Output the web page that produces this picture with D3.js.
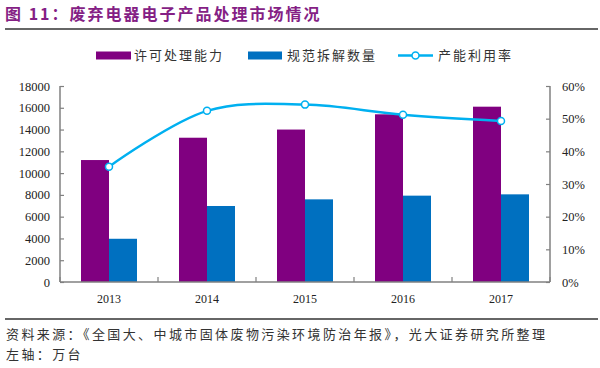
<!DOCTYPE html>
<html><head><meta charset="utf-8">
<script src="https://cdn.jsdelivr.net/npm/d3@7"></script>
<style>body{margin:0;background:#fff}svg{display:block}</style>
</head><body>
<script>
const categories = ["2013","2014","2015","2016","2017"];
const capacity = [11200, 13250, 14000, 15400, 16100];   // 许可处理能力
const dismantled = [3970, 6980, 7590, 7930, 8050];     // 规范拆解数量
const utilization = [0.353, 0.524, 0.543, 0.512, 0.493]; // 产能利用率
const leftTicks = [0,2000,4000,6000,8000,10000,12000,14000,16000,18000];
const rightTicks = [0,0.1,0.2,0.3,0.4,0.5,0.6];
const seriesNames = ["许可处理能力","规范拆解数量","产能利用率"];

const W=600,H=368;
const cjk='"Noto Sans CJK SC", sans-serif';
const serif='"Liberation Serif", "Times New Roman", serif';
const cPurple="#800080", cBlue="#0070C0", cLine="#00B0F0", axisC="#808080";

const svg=d3.select("body").append("svg").attr("width",W).attr("height",H);

// title
svg.append("text").attr("x",5).attr("y",20).attr("font-family",cjk).attr("font-weight","bold")
  .attr("font-size",16).attr("letter-spacing",2).attr("fill","#851F85").text("图 11：废弃电器电子产品处理市场情况");
svg.append("line").attr("x1",5).attr("x2",598).attr("y1",29).attr("y2",29).attr("stroke","#666").attr("stroke-width",2);

const x0=d3.scaleBand().domain(categories).range([60,550]).paddingInner(0.4286).paddingOuter(0.2143);
const x1=d3.scaleBand().domain([0,1]).range([0,x0.bandwidth()]);
const yL=d3.scaleLinear().domain([0,18000]).range([282,86]);
const yR=d3.scaleLinear().domain([0,0.6]).range([282,86]);

// bars
const g=svg.append("g");
categories.forEach((c,i)=>{
  g.append("rect").attr("x",x0(c)+x1(0)).attr("width",x1.bandwidth()).attr("y",yL(capacity[i])).attr("height",yL(0)-yL(capacity[i])).attr("fill",cPurple);
  g.append("rect").attr("x",x0(c)+x1(1)).attr("width",x1.bandwidth()).attr("y",yL(dismantled[i])).attr("height",yL(0)-yL(dismantled[i])).attr("fill",cBlue);
});

// axes
const axL=svg.append("g").attr("transform","translate(60,0)")
  .call(d3.axisLeft(yL).tickValues(leftTicks).tickSize(-4).tickPadding(10).tickFormat(d3.format("d")));
const axR=svg.append("g").attr("transform","translate(550,0)")
  .call(d3.axisRight(yR).tickValues(rightTicks).tickSize(-4).tickPadding(12).tickFormat(d3.format(".0%")));
const xBoundaries=d3.range(categories.length+1).map(i=>60+i*x0.step());
const axX=svg.append("g").attr("transform","translate(0,282)");
axX.append("line").attr("x1",60).attr("x2",550).attr("stroke",axisC).attr("stroke-width",1.5);
axX.selectAll("line.t").data(xBoundaries).join("line").attr("x1",d=>d).attr("x2",d=>d).attr("y1",0).attr("y2",-5).attr("stroke",axisC).attr("stroke-width",1.2);
axX.selectAll("text").data(categories).join("text").attr("x",d=>x0(d)+x0.bandwidth()/2).attr("y",21)
  .attr("text-anchor","middle").attr("font-family",serif).attr("font-size",12).attr("fill","#222").text(d=>d);
[axL,axR].forEach(a=>{
  a.select(".domain").attr("stroke",axisC).attr("stroke-width",1.5).attr("d", a===axL? "M0,86V282":"M0,86V282");
  a.selectAll(".tick line").attr("stroke",axisC).attr("stroke-width",1.2);
  a.selectAll("text").attr("font-family",serif).attr("font-size",12.5).attr("fill","#222");
});

// line
const cx=i=>x0(categories[i])+x0.bandwidth()/2;
const line=d3.line().x((d,i)=>cx(i)).y(d=>yR(d)).curve(d3.curveCatmullRom.alpha(0.5));
svg.append("path").datum(utilization).attr("d",line).attr("fill","none").attr("stroke",cLine).attr("stroke-width",2.5);
svg.selectAll("circle.m").data(utilization).join("circle").attr("cx",(d,i)=>cx(i)).attr("cy",d=>yR(d)).attr("r",3.5)
  .attr("fill","#fff").attr("stroke",cLine).attr("stroke-width",1.5);

// legend
const lg=svg.append("g").attr("font-family",cjk).attr("font-size",13).attr("fill","#333");
lg.append("rect").attr("x",96).attr("y",51.5).attr("width",35).attr("height",8).attr("fill",cPurple);
lg.append("text").attr("x",134).attr("y",60).attr("letter-spacing",2).text(seriesNames[0]);
lg.append("rect").attr("x",248).attr("y",51.5).attr("width",34).attr("height",8).attr("fill",cBlue);
lg.append("text").attr("x",287).attr("y",60).attr("letter-spacing",2).text(seriesNames[1]);
lg.append("line").attr("x1",398).attr("x2",433).attr("y1",55.5).attr("y2",55.5).attr("stroke",cLine).attr("stroke-width",2.5);
lg.append("circle").attr("cx",415.5).attr("cy",55.5).attr("r",3.5).attr("fill","#fff").attr("stroke",cLine).attr("stroke-width",1.5);
lg.append("text").attr("x",438).attr("y",60).attr("letter-spacing",2).text(seriesNames[2]);

// footer
svg.append("line").attr("x1",5).attr("x2",598).attr("y1",319).attr("y2",319).attr("stroke","#666").attr("stroke-width",2);
svg.append("text").attr("x",6).attr("y",339).attr("font-family",cjk).attr("font-size",13).attr("letter-spacing",2.4).attr("fill","#333")
  .text("资料来源：《全国大、中城市固体废物污染环境防治年报》，光大证券研究所整理");
svg.append("text").attr("x",6).attr("y",359).attr("font-family",cjk).attr("font-size",13).attr("letter-spacing",2.4).attr("fill","#333")
  .text("左轴：万台");
</script>
</body></html>
